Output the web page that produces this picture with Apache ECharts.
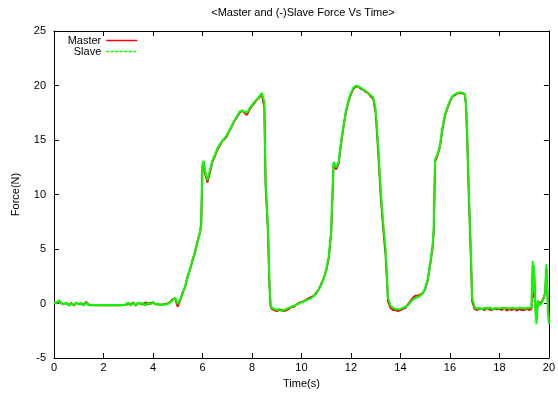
<!DOCTYPE html>
<html><head><meta charset="utf-8">
<script src="https://cdn.jsdelivr.net/npm/echarts@6/dist/echarts.min.js"></script>
<style>html,body{margin:0;padding:0;background:#fff}#c{width:558px;height:394px}</style>
</head><body><div id="c"></div>
<script>
const title = '<Master and (-)Slave Force Vs Time>';
const xTicks = [0, 2, 4, 6, 8, 10, 12, 14, 16, 18, 20];
const yTicks = [-5, 0, 5, 10, 15, 20, 25];
const seriesNames = ['Master', 'Slave'];

const time = [
  0,0.1,0.2,0.3,0.4,0.5,0.6,0.7,0.8,0.9,
  1.0,1.1,1.2,1.3,1.4,1.5,1.6,1.7,1.8,1.9,
  2.0,2.1,2.2,2.3,2.4,2.5,2.6,2.7,2.8,2.9,
  3.0,3.1,3.2,3.3,3.4,3.5,3.6,3.7,3.8,3.9,
  4.0,4.1,4.2,4.3,4.4,4.5,4.6,4.7,4.8,4.9,
  5.0,5.1,5.2,5.3,5.4,5.5,5.6,5.7,5.8,5.9,5.95,
  6.0,6.05,6.1,6.2,6.3,6.4,6.5,6.6,6.7,6.8,6.9,
  7.0,7.1,7.2,7.3,7.4,7.5,7.6,7.7,7.8,7.9,
  8.0,8.1,8.2,8.3,8.4,8.45,8.5,8.55,8.6,8.65,8.7,8.75,8.8,8.9,
  9.0,9.1,9.2,9.3,9.4,9.5,9.6,9.7,9.8,9.9,
  10.0,10.1,10.2,10.3,10.4,10.5,10.6,10.7,10.8,10.9,
  11.0,11.1,11.2,11.25,11.3,11.4,11.5,11.6,11.7,11.8,11.9,
  12.0,12.1,12.2,12.3,12.4,12.5,12.6,12.7,12.8,12.9,
  13.0,13.1,13.2,13.3,13.4,13.5,13.6,13.7,13.8,13.9,
  14.0,14.1,14.2,14.3,14.4,14.5,14.6,14.7,14.8,14.9,
  15.0,15.1,15.2,15.3,15.35,15.4,15.5,15.6,15.7,15.8,15.9,
  16.0,16.1,16.2,16.3,16.4,16.5,16.6,16.65,16.7,16.75,16.8,16.85,16.9,
  17.0,17.1,17.2,17.3,17.4,17.5,17.6,17.7,17.8,17.9,
  18.0,18.1,18.2,18.3,18.4,18.5,18.6,18.7,18.8,18.9,
  19.0,19.1,19.2,19.3,19.35,19.38,19.4,19.45,19.5,19.55,19.6,19.7,19.8,19.85,19.9,19.95,20.0
];

const master = [
  0.05,0.1,0.2,0.0,-0.05,0.05,-0.15,0.05,-0.2,0.05,
  -0.05,0.0,-0.1,0.15,-0.1,-0.15,-0.15,-0.13,-0.15,-0.15,
  -0.15,-0.15,-0.14,-0.15,-0.15,-0.14,-0.15,-0.15,-0.14,-0.12,
  0.0,-0.1,0.1,-0.2,0.05,0.0,-0.1,0.1,-0.05,0.05,
  0.1,-0.05,-0.1,-0.1,-0.12,-0.05,0.0,0.15,0.4,0.45,
  -0.3,0.3,1.0,1.5,2.5,3.1,4.0,4.7,5.7,6.5,7.4,
  12.5,13.0,12.0,11.1,12.0,13.0,13.5,14.1,14.5,14.9,15.1,
  15.4,15.9,16.3,16.8,17.1,17.5,17.7,17.5,17.3,17.8,
  18.1,18.4,18.7,18.9,19.2,19.1,18.0,11.0,8.7,6.5,2.0,-0.2,-0.5,-0.6,
  -0.7,-0.6,-0.6,-0.7,-0.6,-0.5,-0.3,-0.3,-0.1,0.05,
  0.15,0.2,0.35,0.5,0.6,0.7,1.0,1.3,1.8,2.3,
  3.0,4.1,6.4,9.5,12.8,12.3,12.8,14.6,16.2,17.6,18.5,
  19.2,19.7,19.9,19.9,19.7,19.6,19.4,19.3,19.0,18.8,
  17.5,14.0,10.0,7.0,4.5,0.2,-0.4,-0.6,-0.6,-0.7,
  -0.6,-0.5,-0.4,-0.1,0.2,0.5,0.7,0.7,0.8,0.95,
  1.3,2.1,3.5,5.1,6.8,13.0,13.6,14.4,16.0,17.2,17.9,
  18.5,19.0,19.1,19.3,19.3,19.3,19.2,18.2,15.0,11.0,7.5,4.0,0.2,
  -0.5,-0.6,-0.45,-0.5,-0.6,-0.4,-0.55,-0.6,-0.45,-0.5,
  -0.5,-0.6,-0.4,-0.65,-0.5,-0.6,-0.45,-0.65,-0.5,-0.6,
  -0.6,-0.45,-0.6,-0.5,3.5,0.5,3.0,-0.2,-1.5,0.1,0.0,0.1,0.6,1.0,3.2,0.5,-1.5
];

const slave = [
  0.1,0.0,0.3,0.05,-0.1,0.1,-0.2,0.0,-0.15,0.1,
  -0.1,0.05,-0.2,0.1,-0.15,-0.15,-0.12,-0.15,-0.14,-0.15,
  -0.15,-0.14,-0.15,-0.15,-0.14,-0.15,-0.15,-0.14,-0.15,-0.1,
  0.1,-0.2,0.05,-0.15,0.1,-0.1,0.05,-0.2,0.1,-0.1,
  0.15,-0.1,0.0,-0.15,-0.1,-0.1,-0.05,0.1,0.3,0.55,
  -0.05,0.4,0.9,1.6,2.4,3.2,3.9,4.8,5.6,6.6,7.2,
  12.7,13.1,12.2,11.3,12.2,13.1,13.6,14.2,14.6,14.9,15.2,
  15.5,15.9,16.4,16.8,17.2,17.6,17.7,17.6,17.5,17.9,
  18.2,18.5,18.7,19.0,19.3,19.2,18.5,11.5,9.0,6.9,2.5,0.0,-0.4,-0.5,
  -0.6,-0.5,-0.7,-0.6,-0.5,-0.4,-0.3,-0.2,-0.1,0.0,
  0.1,0.2,0.3,0.4,0.5,0.7,0.9,1.3,1.7,2.3,
  3.1,4.2,6.6,10.0,13.0,12.5,12.9,14.8,16.3,17.7,18.6,
  19.3,19.8,20.0,19.9,19.8,19.6,19.5,19.3,19.1,18.9,
  17.8,14.5,10.5,7.5,5.0,0.5,-0.2,-0.4,-0.5,-0.55,
  -0.5,-0.4,-0.3,-0.2,0.1,0.35,0.5,0.6,0.7,0.9,
  1.4,2.2,3.6,5.3,7.0,13.2,13.7,14.5,16.2,17.3,18.0,
  18.6,19.0,19.2,19.3,19.35,19.35,19.2,18.5,15.5,11.5,8.0,4.5,0.5,
  -0.35,-0.5,-0.4,-0.55,-0.4,-0.5,-0.35,-0.5,-0.45,-0.4,
  -0.45,-0.4,-0.45,-0.4,-0.45,-0.4,-0.42,-0.45,-0.4,-0.42,
  -0.45,-0.4,-0.42,-0.4,3.9,1.0,3.5,-0.4,-1.9,0.3,-0.2,0.0,0.5,0.9,3.6,0.3,-1.9
];

const font = 'Liberation Sans, Arial, sans-serif';
const pair = (vals) => time.map((t, i) => [t, vals[i]]);
const xMin = xTicks[0], xMax = xTicks[xTicks.length - 1];
const yMin = yTicks[0], yMax = yTicks[yTicks.length - 1];
const axisCommon = {
  axisLine: { show: true, onZero: false, lineStyle: { color: '#000', width: 1 } },
  axisTick: { show: true, inside: true, length: 5, lineStyle: { color: '#000' } },
  splitLine: { show: false },
  axisLabel: { color: '#000', fontFamily: font, fontSize: 11 }
};
const legendText = { fontFamily: font, fontSize: 11, color: '#000' };

const chart = echarts.init(document.getElementById('c'), null, { renderer: 'canvas' });
chart.setOption({
  animation: false,
  backgroundColor: '#fff',
  title: {
    text: title, left: 303, top: 7, textAlign: 'center', padding: 0,
    textStyle: { fontFamily: font, fontSize: 11, fontWeight: 'normal', color: '#000' }
  },
  grid: { left: 54, right: 5, top: 31, bottom: 32, containLabel: false },
  legend: [
    { data: [seriesNames[0]], orient: 'vertical', right: 420, top: 35, align: 'right',
      padding: 0, itemWidth: 31, itemHeight: 8,
      itemStyle: { opacity: 0 },
      lineStyle: { color: '#ff0000', width: 1.5, type: 'solid' },
      textStyle: legendText },
    { data: [seriesNames[1]], orient: 'vertical', right: 420, top: 46, align: 'right',
      padding: 0, itemWidth: 31, itemHeight: 8,
      itemStyle: { opacity: 0 },
      lineStyle: { color: '#00ff00', width: 1.5, type: [3, 1.5] },
      textStyle: legendText }
  ],
  xAxis: [
    Object.assign({}, axisCommon, { type: 'value', min: xMin, max: xMax, interval: 2,
      name: 'Time(s)', nameLocation: 'middle', nameGap: 20,
      nameTextStyle: { fontFamily: font, fontSize: 11, color: '#000' },
      axisLabel: Object.assign({}, axisCommon.axisLabel, { margin: 4 }) }),
    Object.assign({}, axisCommon, { type: 'value', position: 'top', min: xMin, max: xMax, interval: 2,
      axisLabel: { show: false } })
  ],
  yAxis: [
    Object.assign({}, axisCommon, { type: 'value', min: yMin, max: yMax, interval: 5,
      name: 'Force(N)', nameLocation: 'middle', nameGap: 33, nameRotate: 90,
      nameTextStyle: { fontFamily: font, fontSize: 11, color: '#000' },
      axisLabel: Object.assign({}, axisCommon.axisLabel, { margin: 8 }) }),
    Object.assign({}, axisCommon, { type: 'value', position: 'right', min: yMin, max: yMax, interval: 5,
      axisLabel: { show: false } })
  ],
  series: [
    { name: seriesNames[0], type: 'line', data: pair(master), symbol: 'none', showSymbol: false,
      lineStyle: { color: '#ff0000', width: 2 }, itemStyle: { color: '#ff0000' } },
    { name: seriesNames[1], type: 'line', data: pair(slave), symbol: 'none', showSymbol: false,
      lineStyle: { color: '#00ff00', width: 2 }, itemStyle: { color: '#00ff00' } }
  ]
});
</script></body></html>
